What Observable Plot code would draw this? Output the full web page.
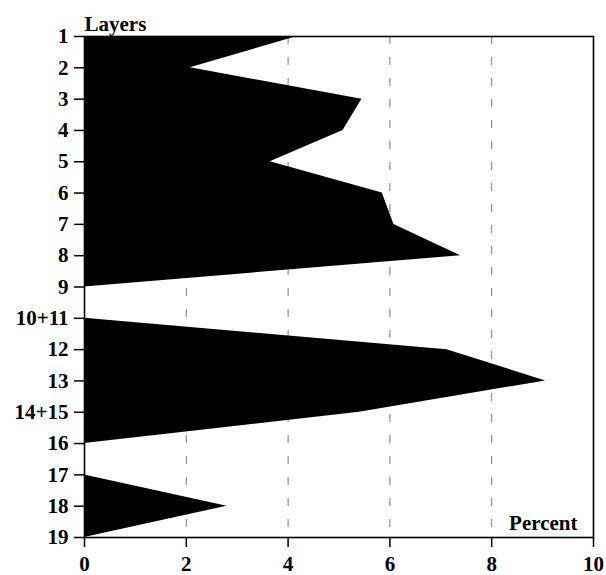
<!DOCTYPE html>
<html>
<head>
<meta charset="utf-8">
<script src="https://cdn.jsdelivr.net/npm/d3@7"></script>
<script src="https://cdn.jsdelivr.net/npm/@observablehq/plot@0.6"></script>
<style>
  html, body { margin: 0; padding: 0; background: #fff; }
</style>
</head>
<body>
<div id="chart"></div>
<script>
// Layer labels (top to bottom), evenly spaced positions
const layerLabels = ["1","2","3","4","5","6","7","8","9","10+11","12","13","14+15","16","17","18","19"];
// Percent per layer
const percentValues = [4.18, 2.08, 5.45, 5.08, 3.65, 5.85, 6.08, 7.39, 0, 0, 7.12, 9.06, 5.4, 0, 0, 2.8, 0];
// Which filled block each layer belongs to
const blockIds = ["A","A","A","A","A","A","A","A","A","B","B","B","B","B","C","C","C"];
const xTicks = [0, 2, 4, 6, 8, 10];
const gridValues = [2, 4, 6, 8];

const data = layerLabels.map((label, i) => ({
  pos: i, label, percent: percentValues[i], block: blockIds[i]
}));

const font = "'Liberation Serif', 'Times New Roman', serif";
const fs = 21;

const chart = Plot.plot({
  width: 606,
  height: 575,
  marginLeft: 84,
  marginRight: 13,
  marginTop: 36,
  marginBottom: 38,
  style: { fontFamily: font, fontSize: fs + "px", fontWeight: "bold", color: "#000", background: "#fff" },
  x: { domain: [0, 10], ticks: xTicks },
  y: { domain: [0, 16], reverse: true, ticks: d3.range(layerLabels.length) },
  marks: [
    Plot.ruleX(gridValues, { stroke: "#777", strokeWidth: 1, strokeDasharray: "8,13" }),
    Plot.areaX(data, { y: "pos", x1: 0, x2: "percent", z: "block", fill: "#000", curve: "linear" }),
    Plot.frame({ stroke: "#000", strokeWidth: 1.6 }),
    Plot.axisX({ ticks: xTicks, tickSize: 10, tickPadding: 9, label: null, stroke: "#000", strokeWidth: 1.5, fontSize: fs, fontWeight: "bold" }),
    Plot.axisY({ ticks: d3.range(layerLabels.length), tickFormat: i => layerLabels[i], tickSize: 10, tickPadding: 6, label: null, stroke: "#000", strokeWidth: 1.5, fontSize: fs, fontWeight: "bold" }),
    Plot.text(["Layers"], { frameAnchor: "top-left", textAnchor: "start", lineAnchor: "bottom", dy: -6, fontSize: fs, fontWeight: "bold", fill: "#000" }),
    Plot.text(["Percent"], { frameAnchor: "bottom-right", textAnchor: "end", lineAnchor: "bottom", dx: -16, dy: -8, fontSize: fs, fontWeight: "bold", fill: "#000" })
  ]
});

document.getElementById("chart").appendChild(chart);
</script>
</body>
</html>
